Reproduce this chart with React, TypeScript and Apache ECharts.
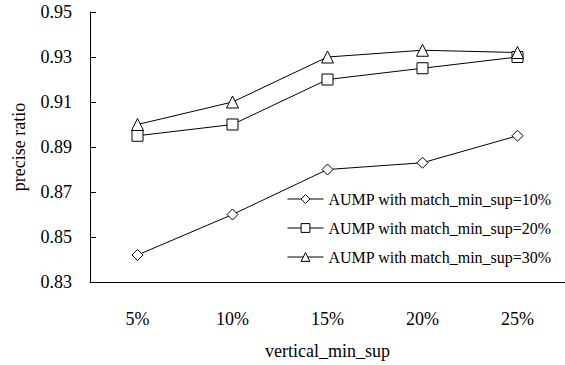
import React, { useEffect, useRef } from "react";
import * as echarts from "echarts";

const categories = ["5%", "10%", "15%", "20%", "25%"];
const seriesNames = [
  "AUMP with match_min_sup=10%",
  "AUMP with match_min_sup=20%",
  "AUMP with match_min_sup=30%",
];
const values10 = [0.842, 0.86, 0.88, 0.883, 0.895];
const values20 = [0.895, 0.9, 0.92, 0.925, 0.93];
const values30 = [0.9, 0.91, 0.93, 0.933, 0.932];
const yMin = 0.83;
const yMax = 0.95;
const yStep = 0.02;

const FONT = "'Liberation Serif', 'DejaVu Serif', serif";

export default function App() {
  const ref = useRef<HTMLDivElement>(null);
  useEffect(() => {
    if (!ref.current) return;
    const chart = echarts.init(ref.current, undefined, { renderer: "svg" });
    const mk = (name: string, data: number[], symbol: string, size: number) => ({
      name,
      type: "line",
      data,
      symbol,
      symbolSize: size,
      showAllSymbol: true,
      lineStyle: { color: "#000", width: 1 },
      itemStyle: { color: "#fff", borderColor: "#000", borderWidth: 1 },
    });
    chart.setOption({
      animation: false,
      backgroundColor: "#fff",
      textStyle: { fontFamily: FONT, color: "#000" },
      grid: { left: 90, right: 0, top: 12, bottom: 81 },
      legend: {
        orient: "vertical",
        left: 282,
        top: 186,
        itemWidth: 36,
        itemHeight: 11,
        itemGap: 13,
        lineStyle: { width: 1, color: "#000" },
        itemStyle: { color: "#fff", borderColor: "#000", borderWidth: 1 },
        textStyle: { fontFamily: FONT, fontSize: 16, color: "#000", padding: [0, 0, 0, 0] },
        data: seriesNames,
      },
      xAxis: {
        type: "category",
        data: categories,
        boundaryGap: true,
        name: "vertical_min_sup",
        nameLocation: "middle",
        nameGap: 60,
        nameTextStyle: { fontFamily: FONT, fontSize: 18, color: "#000" },
        axisLine: { lineStyle: { color: "#000", width: 1 } },
        axisTick: { inside: true, length: 6, lineStyle: { color: "#000" } },
        axisLabel: { fontFamily: FONT, fontSize: 18, color: "#000", margin: 28 },
        splitLine: { show: false },
      },
      yAxis: {
        type: "value",
        min: yMin,
        max: yMax,
        interval: yStep,
        name: "precise ratio",
        nameLocation: "middle",
        nameGap: 62,
        nameRotate: 90,
        nameTextStyle: { fontFamily: FONT, fontSize: 18, color: "#000" },
        axisLine: { show: true, lineStyle: { color: "#000", width: 1 } },
        axisTick: { show: true, inside: true, length: 6, lineStyle: { color: "#000" } },
        axisLabel: {
          fontFamily: FONT,
          fontSize: 18,
          color: "#000",
          margin: 18,
          formatter: (v: number) => v.toFixed(2),
        },
        splitLine: { show: false },
      },
      series: [
        mk(seriesNames[0], values10, "diamond", 11),
        mk(seriesNames[1], values20, "rect", 11),
        mk(seriesNames[2], values30, "triangle", 12),
      ],
    });
    return () => chart.dispose();
  }, []);
  return <div ref={ref} style={{ width: 565, height: 365, position: "absolute", left: 0, top: 0 }} />;
}
